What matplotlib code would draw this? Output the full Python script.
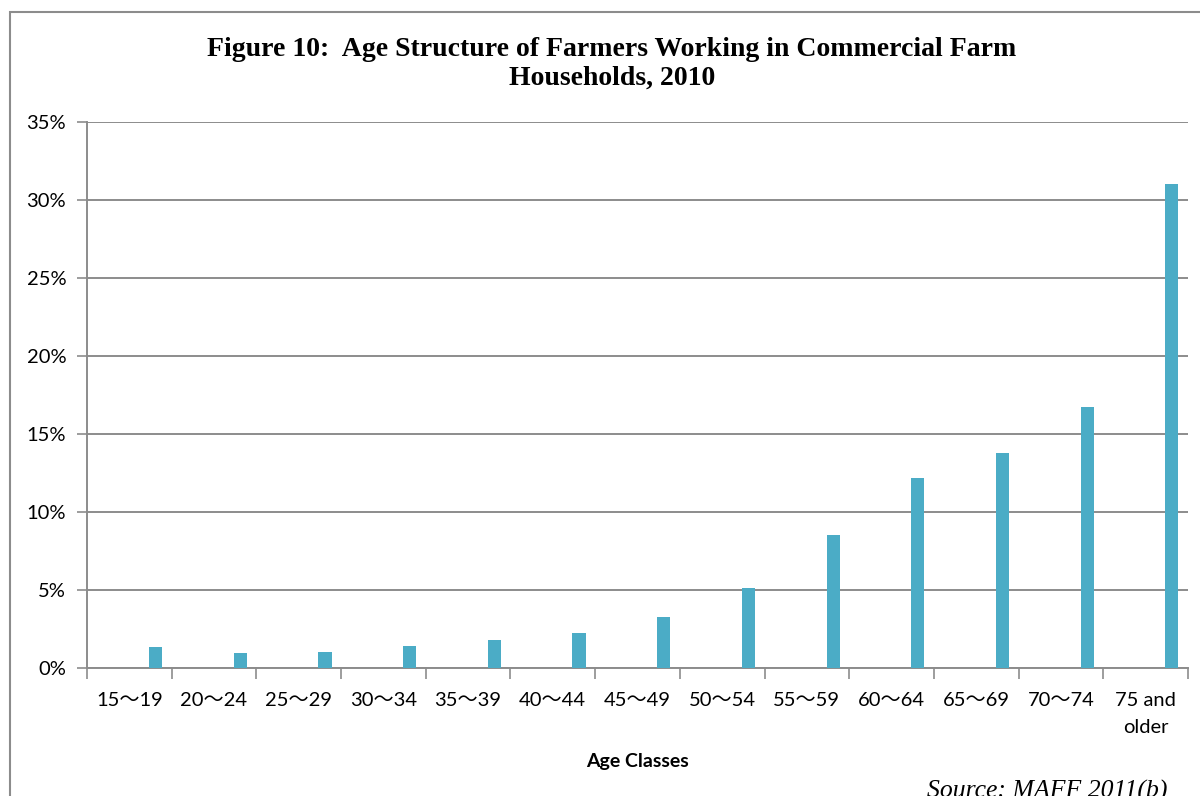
import matplotlib
matplotlib.use("Agg")
import matplotlib.pyplot as plt
from matplotlib.patches import Rectangle
from matplotlib.ticker import FixedLocator, NullFormatter

# data
age_classes = ["15\uff5e19", "20\uff5e24", "25\uff5e29", "30\uff5e34", "35\uff5e39",
               "40\uff5e44", "45\uff5e49", "50\uff5e54", "55\uff5e59", "60\uff5e64",
               "65\uff5e69", "70\uff5e74", "75 and\nolder"]
share_pct = [1.35, 0.96, 1.03, 1.4, 1.8, 2.25, 3.3, 5.13, 8.5, 12.2, 13.8, 16.7, 31.0]
y_ticks = [0, 5, 10, 15, 20, 25, 30, 35]

bar_color = "#4BACC6"
grid_color = "#8C8C8C"
label_font = ["Lato", "Noto Sans CJK JP"]

fig = plt.figure(figsize=(12, 7.96), dpi=100)
ax = fig.add_axes([0.0725, 0.1608, 0.9175, 0.6859])

x = list(range(len(age_classes)))
ax.bar([i + 0.31 for i in x], share_pct, width=0.155, color=bar_color, zorder=3)

ax.set_xlim(-0.5, len(age_classes) - 0.5)
ax.set_ylim(0, 35)

# y axis
ax.set_yticks(y_ticks)
ax.set_yticklabels([f"{t}%" for t in y_ticks], fontfamily=label_font, fontsize=14.5)
ax.yaxis.grid(True, color=grid_color, linewidth=1.4, zorder=0)
ax.tick_params(axis="y", length=7, width=1.2, color=grid_color, pad=8)

# x axis: ticks on category boundaries, labels centred on categories
ax.xaxis.set_major_locator(FixedLocator(x))
ax.set_xticklabels(age_classes, fontfamily=label_font, fontsize=14.5, linespacing=1.75)
ax.tick_params(axis="x", which="major", length=0, pad=17)
ax.xaxis.set_minor_locator(FixedLocator([i - 0.5 for i in range(len(age_classes) + 1)]))
ax.xaxis.set_minor_formatter(NullFormatter())
ax.tick_params(axis="x", which="minor", length=8, width=1.2, color=grid_color)

for side in ["top", "right"]:
    ax.spines[side].set_visible(False)
for side in ["left", "bottom"]:
    ax.spines[side].set_color(grid_color)
    ax.spines[side].set_linewidth(1.4)

ax.set_xlabel("Age Classes", fontfamily=label_font, fontsize=14, fontweight="bold", labelpad=12)

fig.text(0.51, 0.92, "Figure 10:  Age Structure of Farmers Working in Commercial Farm\nHouseholds, 2010",
         ha="center", va="center", fontfamily="Liberation Serif", fontweight="bold",
         fontsize=20, linespacing=1.22)

fig.text(0.973, 0.006, "Source: MAFF 2011(b)", ha="right", va="center",
         fontfamily="Liberation Serif", fontstyle="italic", fontsize=18.5)

# outer chart border
fig.patches.append(Rectangle((10 / 1200, -0.1), 1.2, 1.1 - 12 / 796, transform=fig.transFigure,
                             fill=False, edgecolor="#8C8C8C", linewidth=1.5))

fig.savefig("out.png", dpi=100)
